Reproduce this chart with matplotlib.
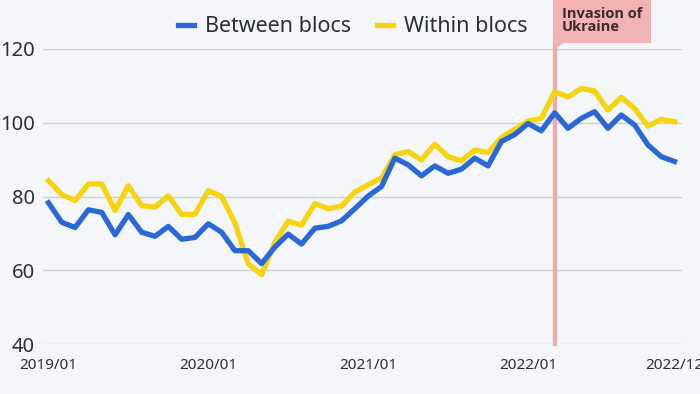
import matplotlib.pyplot as plt
from matplotlib.patches import Polygon

plt.rcParams['font.family'] = ['Noto Sans', 'DejaVu Sans']

# Monthly index values, 2019/01 .. 2022/12
between_blocs = [78.3, 73.0, 71.6, 76.4, 75.7, 69.6, 75.1, 70.3, 69.2, 71.9, 68.4, 68.9,
                 72.6, 70.3, 65.3, 65.3, 61.8, 66.3, 69.8, 67.1, 71.4, 71.9, 73.4, 76.7,
                 80.1, 82.7, 90.4, 88.6, 85.6, 88.3, 86.3, 87.4, 90.4, 88.3, 94.9, 96.8,
                 99.8, 97.8, 102.7, 98.5, 101.2, 103.0, 98.5, 102.1, 99.4, 94.0, 90.8, 89.5]
within_blocs = [84.3, 80.5, 78.9, 83.4, 83.4, 76.2, 82.9, 77.5, 77.1, 80.2, 75.1, 75.2,
                81.6, 80.0, 72.8, 61.8, 58.8, 67.6, 73.3, 72.2, 78.1, 76.7, 77.4, 81.2,
                83.2, 85.0, 91.3, 92.2, 89.9, 94.2, 90.8, 89.7, 92.6, 91.9, 96.0, 98.2,
                100.4, 101.2, 108.4, 107.0, 109.3, 108.6, 103.4, 106.9, 103.9, 99.1, 100.9, 100.3]
tick_pos = [0, 12, 24, 36, 47]
tick_labels = ['2019/01', '2020/01', '2021/01', '2022/01', '2022/12']
event_month = 38
event_label = 'Invasion of\nUkraine'

bg = '#f4f6fa'
blue = '#2a68d6'
yellow = '#f8d30f'
pink = '#f1a9ac'
box_col = '#f3b3b5'

fig = plt.figure(figsize=(7, 3.94), dpi=100, facecolor=bg)
ax = fig.add_axes([43 / 700, 1 - 344 / 394, (682 - 43) / 700, (344 - 49) / 394])
ax.set_facecolor(bg)

months = list(range(len(between_blocs)))
ax.axvline(event_month, ymin=0, ymax=1.03, color=pink, lw=3.0, zorder=1, clip_on=False)
ax.plot(months, within_blocs, color=yellow, lw=3.8, zorder=3, label='Within blocs')
ax.plot(months, between_blocs, color=blue, lw=3.8, zorder=4, label='Between blocs')

ax.set_xlim(-0.41, 47.56)
ax.set_ylim(40, 120)
ax.set_yticks([40, 60, 80, 100, 120])
ax.set_xticks(tick_pos)
ax.set_xticklabels(tick_labels)
ax.grid(axis='y', color='#cdd0d6', lw=1)
ax.set_axisbelow(True)
for s in ax.spines.values():
    s.set_visible(False)
ax.tick_params(axis='y', length=0, labelsize=14.5, labelcolor='#2b2f36', pad=6)
ax.tick_params(axis='x', length=0, labelsize=11, labelcolor='#2b2f36', pad=10)

# event label box with a small pointer
ax.text(event_month + 0.55, 127.8, event_label, fontsize=10.5, fontweight='bold', color='#3a2a2e',
        family=['Open Sans', 'DejaVu Sans'], ha='left', va='center', linespacing=0.92,
        clip_on=False, zorder=5,
        bbox=dict(boxstyle='square,pad=0.6', fc=box_col, ec='none'))
ax.add_patch(Polygon([(event_month - 0.15, 122.3), (event_month + 0.2, 120.4),
                      (event_month + 0.9, 122.3)], closed=True, fc=box_col, ec='none',
                     clip_on=False, zorder=5))

handles, labels = ax.get_legend_handles_labels()
fig.legend(handles[::-1], labels[::-1], loc='center', bbox_to_anchor=(353 / 700, 1 - 27 / 394),
           ncol=2, frameon=False, fontsize=15.5, handlelength=0.75, handletextpad=0.5,
           columnspacing=1.2, labelcolor='#2b2f36')

fig.savefig('out.png', dpi=100, facecolor=bg)
